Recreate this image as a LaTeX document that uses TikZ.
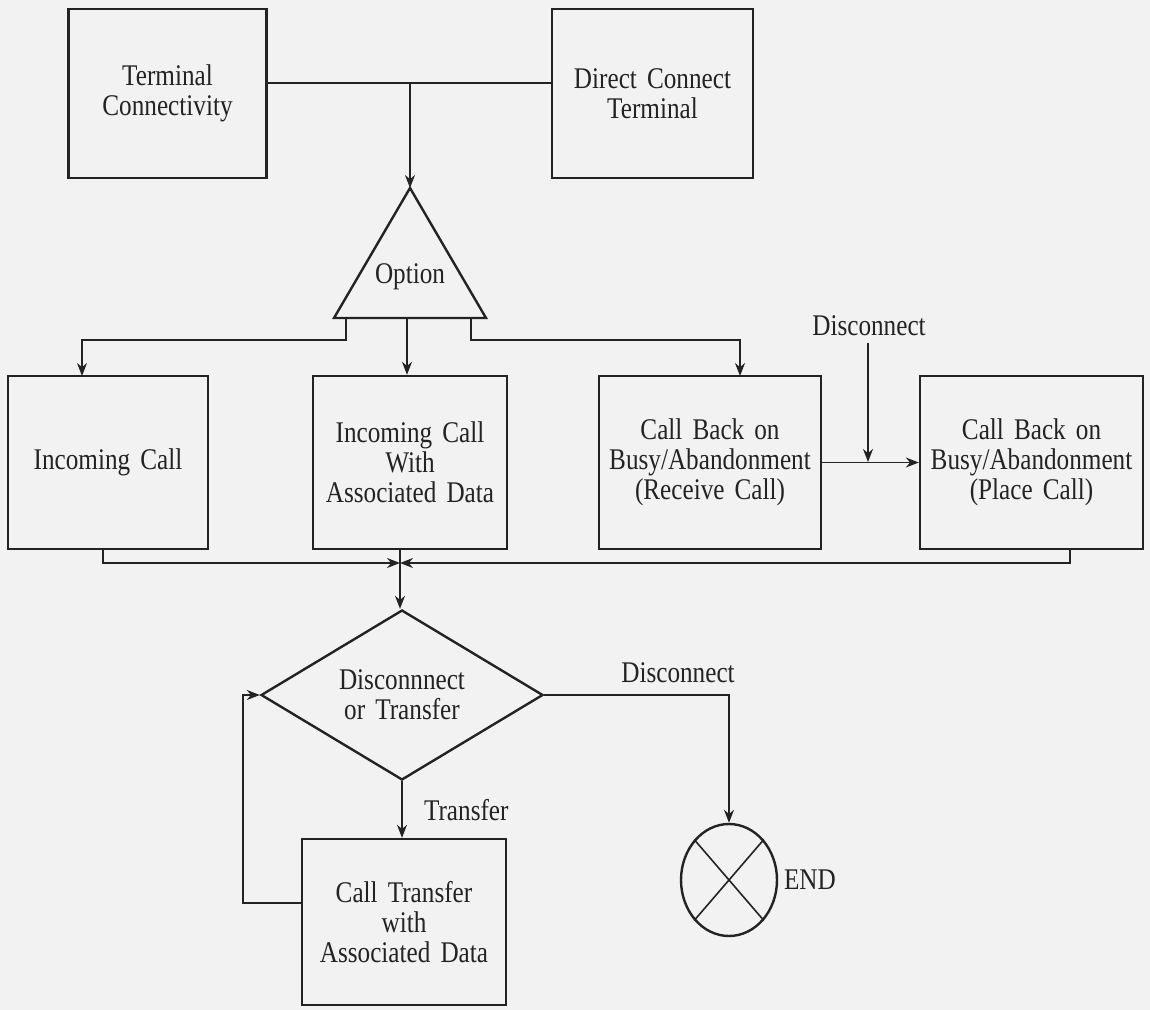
\documentclass[tikz,border=0pt]{standalone}
\usepackage{fontspec}
\setmainfont{Liberation Serif}[FakeStretch=0.84,WordSpace=1.6]
\usetikzlibrary{arrows.meta,shapes.geometric,positioning,calc}
\definecolor{paper}{RGB}{242,242,242}
\definecolor{ink}{RGB}{35,35,35}
\begin{document}
\begin{tikzpicture}[x=0.5pt,y=-0.5pt,
  outline/.style={draw=ink,line width=1.2pt},
  box/.style={outline,align=center,inner sep=0pt},
  flow/.style={draw=ink,line width=0.8pt},
  >={Stealth[length=6.5pt,width=5pt]},
  every node/.style={text=ink,font=\fontsize{15}{15}\selectfont}]
\fill[paper] (0,0) rectangle (1150,1010);
\useasboundingbox (0,0) rectangle (1150,1010);
%\draw [help lines,step=50] (0,0) grid (1150,1010);
\node[box,minimum width=99pt,minimum height=84.5pt] (term) at (167.5,93.5) {Terminal\\Connectivity};
\node[box,minimum width=100.5pt,minimum height=84.5pt] (direct) at (652.5,93.5) {Direct Connect\\Terminal};
\coordinate (apex) at (410,188);
\coordinate (bl) at (334,318);
\coordinate (br) at (486,318);
\draw[outline] (apex) -- (br) -- (bl) -- cycle;
\node (opt) at (410,277) {Option};
\coordinate (tj) at (410,83);
\draw[flow] (term.east |- tj) -- (direct.west |- tj);
\draw[flow,->] (tj) -- (apex);
\node[box,minimum width=100pt,minimum height=86.5pt] (inc) at (108,462.5) {Incoming Call};
\node[box,minimum width=97pt,minimum height=86.5pt] (incd) at (410,462.5) {Incoming Call\\With\\Associated Data};
\node[box,minimum width=111pt,minimum height=86.5pt] (cbr) at (710,462.5) {Call Back on\\Busy/Abandonment\\(Receive Call)};
\node[box,minimum width=111.5pt,minimum height=86.5pt] (cbp) at (1031.5,462.5) {Call Back on\\Busy/Abandonment\\(Place Call)};
% option legs
\coordinate (ol) at (346,318);
\coordinate (om) at (407,318);
\coordinate (or) at (471,318);
\coordinate (inA) at (82,376);
\coordinate (cbA) at (740,376);
\draw[flow,->] (ol) -- ++(0,22) -| (inA);
\draw[flow,->] (om) -- (om |- incd.north);
\draw[flow,->] (or) -- ++(0,22) -| (cbA);
\node (dis1) at (869,326) {Disconnect};
\coordinate (dj) at (868,462);
\draw[flow,->] (dis1.south -| dj) -- (dj);
\draw[flow,->] (cbr.east) -- (cbp.west);
% merge
\coordinate (mg) at (400,563);
\coordinate (incB) at (103,549);
\coordinate (cbpB) at (1070,549);
\node[box,diamond,aspect=1.66,minimum width=141pt,minimum height=85pt] (dec) at (402,695) {Disconnnect\\or Transfer};
\draw[flow,->] (incB) |- (mg);
\draw[flow,->] (cbpB) |- (mg);
\draw[flow,->] (incd.south -| mg) -- (mg) -- (mg |- dec.north);
\node[box,minimum width=102pt,minimum height=83pt] (ctr) at (404,922) {Call Transfer\\with\\Associated Data};
\draw[flow,->] (dec.south) -- (dec.south |- ctr.north);
\node[right] (trl) at (417,810) {Transfer};
\coordinate (lp) at (243,903);
\draw[flow,->] (ctr.west |- lp) -- (lp) |- (dec.west);
\node[outline,ellipse,minimum width=48pt,minimum height=56pt,inner sep=0pt] (end) at (729,880) {};
\draw[flow] (end.north west) -- (end.south east) (end.north east) -- (end.south west);
\node[right] (endl) at (777,880) {END};
\draw[flow,->] (dec.east) -| (end.north);
\node (dis2) at (678,673) {Disconnect};
\end{tikzpicture}
\end{document}
